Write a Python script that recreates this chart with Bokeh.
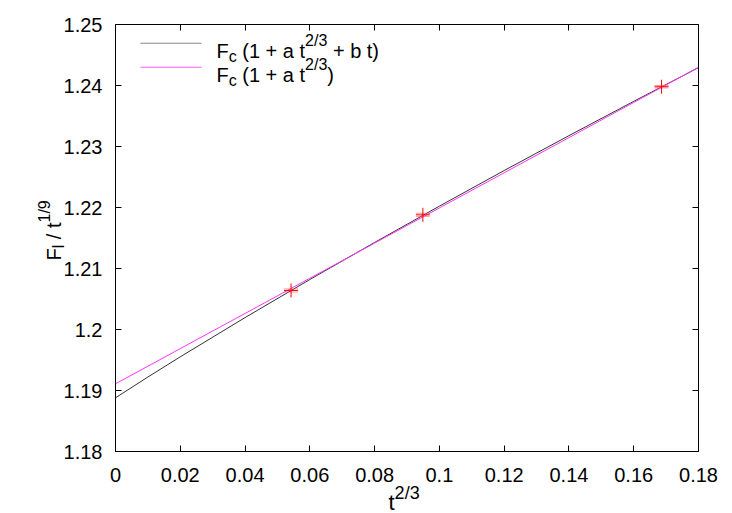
import math
from bokeh.plotting import figure
from bokeh.models import (Range1d, FixedTicker, LinearAxis, CustomJSTickFormatter,
                          BoxAnnotation, ColumnDataSource)
from bokeh.core.properties import value
from bokeh.embed import file_html
from bokeh.resources import INLINE

# ---------------- data ----------------
x_ticks = [0, 0.02, 0.04, 0.06, 0.08, 0.10, 0.12, 0.14, 0.16, 0.18]
y_ticks = [1.18, 1.19, 1.20, 1.21, 1.22, 1.23, 1.24, 1.25]
x_lim = (0.0, 0.18)
y_lim = (1.18, 1.25)

pts_x = [0.0542, 0.0949, 0.1686]
pts_y = [1.2064, 1.2188, 1.2398]
pts_err = [0.00025, 0.00025, 0.0002]

curve_x = [0.0, 0.01, 0.02, 0.04, 0.06, 0.08, 0.10, 0.12, 0.14, 0.16, 0.18]
fit3_y = [1.1888, 1.19221, 1.19552, 1.20195, 1.20819, 1.21427, 1.22022,
          1.22606, 1.23178, 1.23740, 1.24293]          # Fc (1 + a t^{2/3} + b t)
fit2_y = [1.19110, 1.19398, 1.19687, 1.20263, 1.20840, 1.21416, 1.21993,
          1.22569, 1.23146, 1.23722, 1.24299]          # Fc (1 + a t^{2/3})

legend_labels = [
    [("F", 0), ("c", -1), (" (1 + a t", 0), ("2/3", 1), (" + b t)", 0)],
    [("F", 0), ("c", -1), (" (1 + a t", 0), ("2/3", 1), (")", 0)],
]
xlabel_parts = [("t", 0), ("2/3", 1)]
ylabel_parts = [("F", 0), ("l", -1), (" / t", 0), ("1/9", 1)]

BLACK_LINE = "#333333"
MAGENTA = "#ff33ff"
RED = "#ff0000"
FONT = "Liberation Sans"

# ---------------- layout (pixels) ----------------
W, H = 732, 513
BOX_L, BOX_R, BOX_T, BOX_B = 115, 698, 24, 451   # plot box inside the canvas

xs = (x_lim[1] - x_lim[0]) / (BOX_R - BOX_L)
ys = (y_lim[1] - y_lim[0]) / (BOX_B - BOX_T)
xr = Range1d(x_lim[0] - BOX_L * xs, x_lim[1] + (W - BOX_R) * xs)
yr = Range1d(y_lim[0] - (H - BOX_B) * ys, y_lim[1] + BOX_T * ys)

def px_to_data(px, py):
    return xr.start + px * xs, yr.start + (H - py) * ys

p = figure(width=W, height=H, output_backend="svg", toolbar_location=None,
           x_range=xr, y_range=yr, min_border=0,
           background_fill_color="white", border_fill_color="white",
           outline_line_color=None, x_axis_location=None, y_axis_location=None)
p.xgrid.visible = False
p.ygrid.visible = False

fmt = CustomJSTickFormatter(code="""
let s = tick.toFixed(2);
if (s.indexOf('.') >= 0) { s = s.replace(/0+$/, '').replace(/\\.$/, ''); }
return s;
""")
blank = CustomJSTickFormatter(code="return '';")

def make_axis(ticks, loc, bounds, show_labels, standoff):
    ax = LinearAxis(fixed_location=loc, bounds=bounds)
    ax.ticker = FixedTicker(ticks=ticks)
    ax.formatter = fmt if show_labels else blank
    ax.axis_line_color = "black"
    ax.axis_line_width = 1
    ax.major_tick_line_color = "black"
    ax.major_tick_in = 6
    ax.major_tick_out = 0
    ax.minor_tick_line_color = None
    ax.major_label_standoff = standoff
    ax.major_label_text_font = FONT
    ax.major_label_text_color = "black"
    ax.major_label_text_font_size = "20px"
    ax.axis_label = None
    return ax

p.add_layout(make_axis(x_ticks, y_lim[0], x_lim, True, 16), "below")
p.add_layout(make_axis(y_ticks, x_lim[0], y_lim, True, 13), "left")
p.add_layout(make_axis(x_ticks, y_lim[1], x_lim, False, 0), "above")
p.add_layout(make_axis(y_ticks, x_lim[1], y_lim, False, 0), "right")

# ---------------- marks ----------------
p.line(curve_x, fit3_y, line_color=BLACK_LINE, line_width=1)
p.line(curve_x, fit2_y, line_color=MAGENTA, line_width=1)

src = ColumnDataSource(dict(
    x=pts_x, y=pts_y,
    lo=[y - e for y, e in zip(pts_y, pts_err)],
    hi=[y + e for y, e in zip(pts_y, pts_err)]))
p.segment(x0="x", y0="lo", x1="x", y1="hi", source=src,
          line_color="#ff5050", line_width=1, line_alpha=0.8)
p.scatter(x="x", y="lo", source=src, marker="dash", size=14,
          line_color="#ff5050", line_alpha=0.6, line_width=1)
p.scatter(x="x", y="hi", source=src, marker="dash", size=14,
          line_color="#ff5050", line_alpha=0.6, line_width=1)
p.scatter(x="x", y="y", source=src, marker="cross", size=14,
          line_color=RED, line_width=1)

# ---------------- rich text helper ----------------
CW = {"F": 611, "c": 500, " ": 278, "(": 333, ")": 333, "1": 556, "2": 556,
      "3": 556, "9": 556, "+": 584, "a": 556, "b": 556, "t": 278, "/": 278,
      "l": 222}

def text_width(s, size):
    return sum(CW.get(ch, 556) for ch in s) * size / 1000.0

def rich(parts, x0, y0, size, small, shift_up, shift_dn, rotated=False):
    """x0, y0: canvas pixels from the top-left corner (baseline start)."""
    pos = 0.0
    for txt, kind in parts:
        fs = size if kind == 0 else small
        dy = 0 if kind == 0 else (shift_up if kind > 0 else -shift_dn)
        lead = len(txt) - len(txt.lstrip(" "))
        pos += text_width(" " * lead, fs)
        body = txt.strip(" ")
        if not rotated:
            px, py = x0 + pos, y0 - dy
        else:
            px, py = x0 - dy, y0 - pos
        dx_, dy_ = px_to_data(px, py)
        p.text(x=[dx_], y=[dy_], text=[body],
               angle=90 if rotated else 0, angle_units="deg",
               text_font=value(FONT), text_font_size=value(f"{fs}px"),
               text_color="black", text_align="left", text_baseline="alphabetic")
        pos += text_width(body, fs)

def swatch(x0, x1, y, color, alpha):
    p.add_layout(BoxAnnotation(left=x0, right=x1, bottom=H - y - 0.5, top=H - y + 0.5,
                               left_units="screen", right_units="screen",
                               bottom_units="screen", top_units="screen",
                               fill_color=color, fill_alpha=alpha, line_color=None))

# legend
swatch(140, 201, 42.7, BLACK_LINE, 0.6)
swatch(140, 201, 66.7, MAGENTA, 0.8)
rich(legend_labels[0], 216, 50, 20, 16, 10, 6)
rich(legend_labels[1], 216, 74, 20, 16, 10, 6)

# axis titles
rich(xlabel_parts, 388, 502, 22, 18, 10, 6)
rich(ylabel_parts, 53, 260, 20, 16, 9, 5, rotated=True)

open("out.html", "w").write(file_html(p, INLINE))
